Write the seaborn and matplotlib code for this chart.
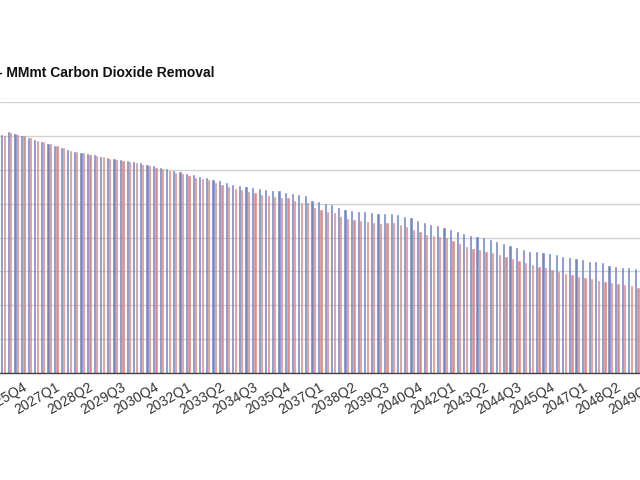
"""Quarterly carbon dioxide removal (MMmt), two series side by side.

Cropped view of a wide quarterly bar chart, 2024Q4 .. 2049Q3.
"""
import matplotlib
matplotlib.use("Agg")
import matplotlib.pyplot as plt
import pandas as pd
import seaborn as sns

sns.set_style("white")
plt.rcParams["font.family"] = ["Liberation Sans", "DejaVu Sans"]

TITLE = "- MMmt Carbon Dioxide Removal"

quarters = [f"{2024 + (3 + i) // 4}Q{(3 + i) % 4 + 1}" for i in range(100)]

series_blue = [
    351.3, 355.7, 352.8, 349.8, 346.9, 343.9, 341.0, 338.0, 335.1, 332.1,
    329.2, 326.2, 324.7, 323.3, 321.8, 318.8, 317.3, 315.9, 314.4, 312.9,
    311.4, 310.0, 307.0, 305.5, 302.6, 301.1, 298.2, 296.7, 293.7, 292.2,
    289.3, 287.8, 284.9, 283.4, 280.4, 277.5, 276.0, 274.5, 273.1, 271.6,
    270.1, 268.6, 268.6, 265.7, 264.2, 262.7, 261.3, 253.9, 252.4, 249.4,
    248.0, 243.5, 240.6, 239.1, 237.6, 237.6, 236.2, 234.7, 234.7, 234.7,
    233.2, 230.3, 228.8, 224.4, 221.4, 218.5, 217.0, 214.0, 211.1, 208.1,
    205.2, 202.2, 200.7, 199.3, 196.3, 193.4, 190.4, 187.5, 184.5, 181.6,
    178.6, 178.6, 177.1, 175.7, 174.2, 171.2, 169.7, 168.3, 166.8, 163.8,
    163.8, 162.4, 157.9, 156.5, 155.0, 155.0, 153.5, 152.0, 150.6, 149.1,
]
series_red = [
    349.8, 354.2, 351.3, 349.8, 346.9, 342.4, 341.0, 338.0, 335.1, 332.1,
    327.7, 326.2, 324.7, 321.8, 320.3, 318.8, 315.9, 314.4, 312.9, 311.4,
    310.0, 307.0, 305.5, 302.6, 301.1, 298.2, 295.2, 293.7, 290.8, 287.8,
    286.3, 284.9, 280.4, 277.5, 274.5, 271.6, 270.1, 267.2, 265.7, 262.7,
    261.3, 259.8, 258.3, 258.3, 253.9, 250.9, 250.9, 243.5, 240.6, 237.6,
    236.2, 230.3, 227.3, 225.8, 224.4, 222.9, 221.4, 219.9, 221.4, 221.4,
    218.5, 215.5, 211.1, 208.1, 203.7, 202.2, 200.7, 199.3, 194.8, 190.4,
    186.0, 183.0, 181.6, 178.6, 177.1, 174.2, 171.2, 168.3, 165.3, 162.4,
    159.4, 156.5, 155.0, 152.0, 149.1, 146.1, 144.7, 141.7, 140.2, 138.7,
    135.8, 134.3, 132.8, 131.4, 129.9, 128.4, 125.5, 124.0, 122.5, 121.0,
]
series_names = ["Series 1", "Series 2"]
palette = {"Series 1": "#7286c4", "Series 2": "#dc8c88"}

df = pd.concat([
    pd.DataFrame({"quarter": quarters, "value": series_blue, "series": series_names[0]}),
    pd.DataFrame({"quarter": quarters, "value": series_red, "series": series_names[1]}),
], ignore_index=True)

fig = plt.figure(figsize=(6.4, 4.8), dpi=100)
# axes run past the right edge of the figure: the picture is a crop of a wider chart
ax = fig.add_axes([0, 0.2229, 1.1, 0.5646])
sns.barplot(data=df, x="quarter", y="value", hue="series", order=quarters,
            hue_order=series_names, palette=palette, width=0.75, gap=0.5,
            errorbar=None, legend=False, ax=ax, saturation=1)
# thin bars fade when anti-aliased, give them a hairline edge of the same colour
for patch in ax.patches:
    patch.set_edgecolor(patch.get_facecolor())
    patch.set_linewidth(0.4)

ticks = list(range(4, 100, 5))
ax.set_xticks(ticks)
ax.set_xticklabels([quarters[i] for i in ticks], rotation=30, ha="right",
                   fontsize=10, color="#333333")
ax.tick_params(axis="x", length=0, pad=5)
ax.tick_params(axis="y", left=False, labelleft=False)

# set after the ticks, set_xticks widens the view
ax.set_xlim(-0.45, 106.2)
ax.set_ylim(0, 400)
ax.set_yticks(range(0, 401, 50))
ax.grid(axis="y", color="#d2d2d2", linewidth=1)
ax.set_axisbelow(True)
for side in ("left", "right", "top"):
    ax.spines[side].set_visible(False)
ax.spines["bottom"].set_color("#444444")
ax.spines["bottom"].set_linewidth(1)
ax.set_xlabel("")
ax.set_ylabel("")

fig.text(-0.0038, 0.848, TITLE, fontsize=10, fontweight="bold", color="#111111",
         ha="left", va="center")

fig.savefig("out.png", dpi=100)
